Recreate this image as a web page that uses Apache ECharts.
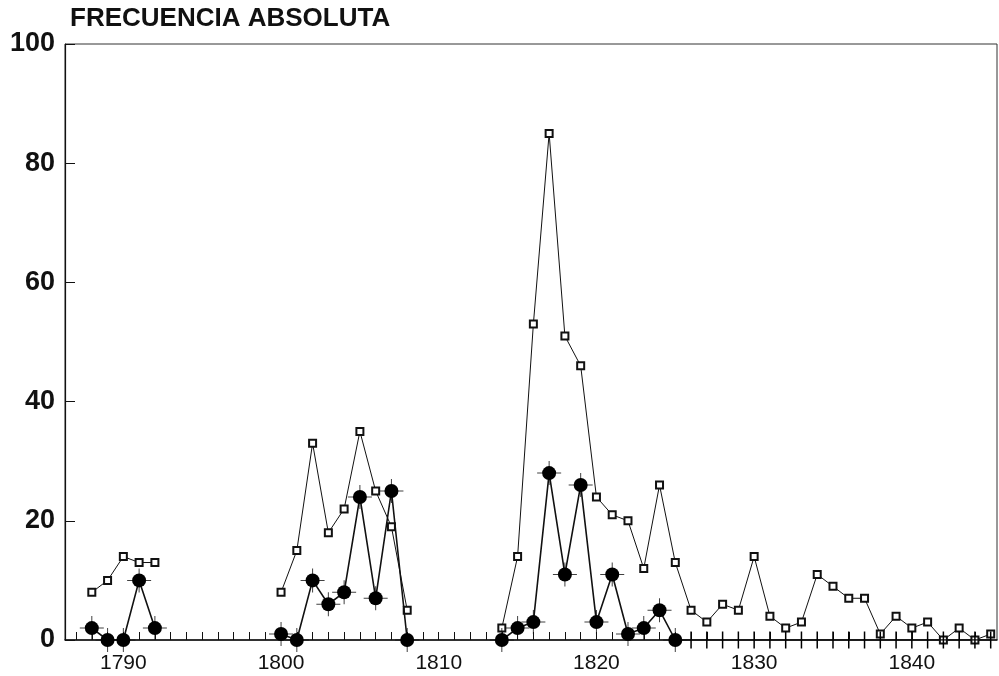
<!DOCTYPE html>
<html>
<head>
<meta charset="utf-8">
<script src="https://cdn.jsdelivr.net/npm/echarts@6/dist/echarts.min.js"></script>
<style>
  html, body { margin: 0; padding: 0; background: #fff; }
  #chart { width: 999px; height: 676px; }
</style>
</head>
<body>
<div id="chart"></div>
<script>
// Years covered by the series (null = no record that year)
const years = [];
for (let y = 1788; y <= 1845; y++) years.push(y);

// Total frequency per year (open squares)
const totals = [
  8, 10, 14, 13, 13,                        // 1788-1792
  null, null, null, null, null, null, null, // 1793-1799
  8, 15, 33, 18, 22, 35, 25, 19, 5,         // 1800-1808
  null, null, null, null, null,             // 1809-1813
  2, 14, 53, 85, 51, 46, 24, 21, 20, 12, 26, 13, // 1814-1825
  5, 3, 6, 5, 14, 4, 2, 3, 11, 9,           // 1826-1835
  7, 7, 1, 4, 2, 3, 0, 2, 0, 1              // 1836-1845
];

// Partial frequency per year (filled circles)
const partial = [
  2, 0, 0, 10, 2,                           // 1788-1792
  null, null, null, null, null, null, null, // 1793-1799
  1, 0, 10, 6, 8, 24, 7, 25, 0,             // 1800-1808
  null, null, null, null, null,             // 1809-1813
  0, 2, 3, 28, 11, 26, 3, 11, 1, 2, 5, 0,   // 1814-1825
  0, 0, 0, 0, 0, 0, 0, 0, 0, 0,             // 1826-1835
  0, 0, 0, 0, 0, 0, 0, 0, 0, 0              // 1836-1845
];

// Last year in which the partial series is drawn with full markers
const partialMarkedUntil = 1825;

// Axis ticks and labels
const yearTicks = [];
for (let y = 1787; y <= 1845; y++) yearTicks.push(y);
const yearLabels = [1790, 1800, 1810, 1820, 1830, 1840];
const yTickValues = [0, 20, 40, 60, 80, 100];

const pairs = (vals) => years.map((y, i) => [y, vals[i] === null ? '-' : vals[i]]);

const crossPath = 'path://M0,11.5H24V12.5H0Z M11.5,0H12.5V24H11.5Z';
const vTick = 'path://M0,0H2V20H0Z';

const partialPairs = pairs(partial);
const partialMarked = partialPairs.map(p => ({
  value: p,
  symbol: p[0] > partialMarkedUntil ? vTick : 'circle',
  symbolSize: p[0] > partialMarkedUntil ? [1.5, 17] : 14
}));
const partialCross = partialPairs.filter(p => p[0] <= partialMarkedUntil && p[1] !== '-');

const chart = echarts.init(document.getElementById('chart'), null, { renderer: 'canvas' });
chart.setOption({
  animation: false,
  backgroundColor: '#ffffff',
  title: {
    text: 'FRECUENCIA ABSOLUTA',
    left: 65,
    top: 1,
    textStyle: {
      fontFamily: 'Liberation Sans, Arial, sans-serif',
      fontWeight: 'bold',
      fontSize: 26,
      color: '#111'
    }
  },
  grid: {
    left: 65, right: 2, top: 44, bottom: 36,
    show: true, borderColor: '#333', borderWidth: 1
  },
  xAxis: {
    type: 'value',
    min: 1786.3,
    max: 1845.4,
    axisLine: { show: true, onZero: false, lineStyle: { color: '#111', width: 1.5 } },
    axisTick: {
      show: true, inside: true, length: 8,
      customValues: yearTicks,
      lineStyle: { color: '#111', width: 1 }
    },
    axisLabel: {
      show: true,
      customValues: yearLabels,
      formatter: (v) => String(v),
      margin: 13,
      fontFamily: 'Liberation Sans Narrow, Liberation Sans, sans-serif',
      fontSize: 21,
      color: '#111'
    },
    splitLine: { show: false }
  },
  yAxis: {
    type: 'value',
    min: 0,
    max: 100,
    axisLine: { show: true, lineStyle: { color: '#111', width: 1.2 } },
    axisTick: {
      show: true, inside: true, length: 10,
      customValues: yTickValues,
      lineStyle: { color: '#111', width: 1 }
    },
    axisLabel: {
      customValues: yTickValues,
      margin: 10,
      fontFamily: 'Liberation Sans, Arial, sans-serif',
      fontWeight: 'bold',
      fontSize: 27,
      color: '#111'
    },
    splitLine: { show: false }
  },
  series: [
    {
      name: 'Total',
      type: 'line',
      data: pairs(totals),
      connectNulls: false,
      symbol: 'emptyRect',
      symbolSize: 7,
      lineStyle: { color: '#111', width: 1 },
      itemStyle: { color: '#111', borderWidth: 1.2 },
      z: 3
    },
    {
      name: 'Cruces',
      type: 'scatter',
      data: partialCross,
      symbol: crossPath,
      symbolSize: 24,
      itemStyle: { color: '#111' },
      z: 4
    },
    {
      name: 'Parcial',
      type: 'line',
      data: partialMarked,
      connectNulls: false,
      lineStyle: { color: '#111', width: 1.6 },
      itemStyle: { color: '#000' },
      z: 5
    }
  ]
});
</script>
</body>
</html>
